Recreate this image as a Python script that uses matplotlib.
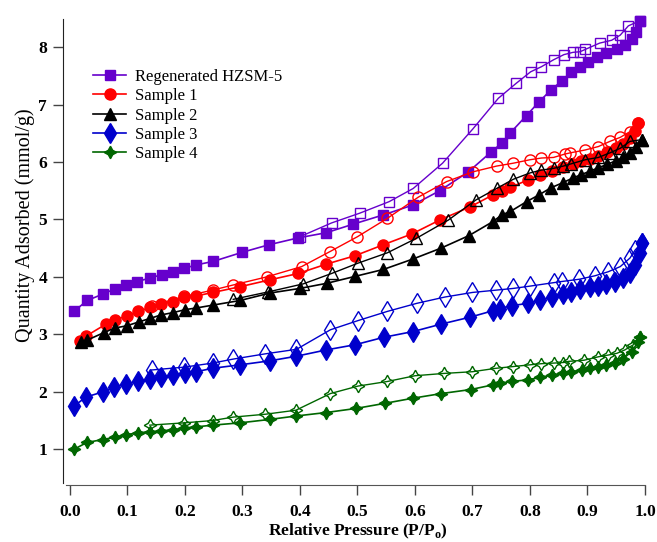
import matplotlib.pyplot as plt

plt.rcParams['font.family'] = 'Liberation Serif'
plt.rcParams['mathtext.fontset'] = 'custom'
plt.rcParams['mathtext.rm'] = 'Liberation Serif:bold'

# Regenerated HZSM-5
reg_ads_x = [0.007, 0.03, 0.057, 0.078, 0.097, 0.117, 0.139, 0.16, 0.179, 0.199, 0.22, 0.249, 0.30, 0.346, 0.397,
             0.446, 0.493, 0.545, 0.596, 0.643, 0.693, 0.733, 0.751, 0.766, 0.794, 0.815, 0.836, 0.855, 0.871,
             0.887, 0.901, 0.916, 0.933, 0.951, 0.965, 0.977, 0.985, 0.991]
reg_ads_y = [3.40, 3.59, 3.70, 3.79, 3.86, 3.92, 3.98, 4.04, 4.09, 4.15, 4.21, 4.27, 4.43, 4.56, 4.68,
             4.77, 4.92, 5.08, 5.25, 5.50, 5.83, 6.18, 6.33, 6.51, 6.81, 7.04, 7.25, 7.41, 7.56,
             7.66, 7.75, 7.82, 7.90, 7.96, 8.04, 8.14, 8.27, 8.46]
reg_des_x = [0.991, 0.971, 0.957, 0.942, 0.921, 0.896, 0.887, 0.875, 0.859, 0.841, 0.820, 0.801, 0.776, 0.745,
             0.701, 0.648, 0.597, 0.555, 0.504, 0.455, 0.40]
reg_des_y = [8.46, 8.37, 8.21, 8.12, 8.07, 7.96, 7.92, 7.91, 7.87, 7.78, 7.66, 7.57, 7.37, 7.11,
             6.58, 5.98, 5.54, 5.31, 5.11, 4.94, 4.70]

# Sample 1
s1_ads_x = [0.017, 0.028, 0.063, 0.078, 0.099, 0.119, 0.14, 0.159, 0.18, 0.199, 0.22, 0.249, 0.296, 0.348, 0.397,
            0.445, 0.496, 0.545, 0.595, 0.643, 0.696, 0.736, 0.751, 0.766, 0.797, 0.817, 0.838, 0.858, 0.874,
            0.889, 0.904, 0.919, 0.934, 0.949, 0.962, 0.974, 0.983, 0.988]
s1_ads_y = [2.89, 2.97, 3.18, 3.25, 3.32, 3.40, 3.47, 3.53, 3.57, 3.65, 3.67, 3.73, 3.83, 3.95, 4.06,
            4.22, 4.37, 4.56, 4.75, 4.99, 5.22, 5.43, 5.50, 5.56, 5.69, 5.78, 5.85, 5.92, 5.96,
            6.01, 6.06, 6.11, 6.17, 6.24, 6.32, 6.42, 6.54, 6.68]
s1_des_x = [0.988, 0.974, 0.957, 0.939, 0.919, 0.896, 0.870, 0.861, 0.841, 0.820, 0.800, 0.771, 0.742, 0.701,
            0.655, 0.606, 0.552, 0.500, 0.452, 0.403, 0.342, 0.284, 0.248, 0.199, 0.142]
s1_des_y = [6.68, 6.53, 6.43, 6.36, 6.27, 6.21, 6.16, 6.14, 6.08, 6.07, 6.04, 5.98, 5.93, 5.83,
            5.66, 5.39, 5.02, 4.70, 4.44, 4.18, 4.00, 3.86, 3.77, 3.66, 3.50]

# Sample 2
s2_ads_x = [0.02, 0.03, 0.059, 0.078, 0.099, 0.121, 0.14, 0.159, 0.18, 0.20, 0.22, 0.249, 0.296, 0.348, 0.40,
            0.447, 0.496, 0.545, 0.596, 0.645, 0.694, 0.735, 0.751, 0.766, 0.794, 0.816, 0.836, 0.857, 0.874,
            0.889, 0.904, 0.919, 0.934, 0.949, 0.962, 0.974, 0.985, 0.994]
s2_ads_y = [2.86, 2.90, 3.03, 3.11, 3.15, 3.22, 3.28, 3.34, 3.38, 3.43, 3.46, 3.51, 3.59, 3.72, 3.80,
            3.89, 4.01, 4.13, 4.31, 4.50, 4.72, 4.96, 5.08, 5.14, 5.31, 5.43, 5.55, 5.64, 5.72,
            5.78, 5.84, 5.90, 5.96, 6.02, 6.08, 6.16, 6.26, 6.39]
s2_des_x = [0.994, 0.974, 0.957, 0.939, 0.919, 0.896, 0.872, 0.858, 0.841, 0.820, 0.800, 0.771, 0.742, 0.706,
            0.658, 0.602, 0.552, 0.501, 0.455, 0.406, 0.345, 0.284]
s2_des_y = [6.39, 6.36, 6.24, 6.16, 6.08, 6.04, 5.97, 5.93, 5.89, 5.86, 5.81, 5.70, 5.54, 5.34,
            4.99, 4.67, 4.42, 4.24, 4.06, 3.88, 3.74, 3.61]

# Sample 3
s3_ads_x = [0.007, 0.028, 0.058, 0.077, 0.097, 0.119, 0.139, 0.159, 0.18, 0.20, 0.22, 0.248, 0.296, 0.348, 0.394,
            0.446, 0.496, 0.546, 0.597, 0.646, 0.696, 0.735, 0.748, 0.768, 0.797, 0.817, 0.838, 0.858, 0.872,
            0.887, 0.904, 0.919, 0.933, 0.948, 0.962, 0.974, 0.983, 0.991, 0.994]
s3_ads_y = [1.75, 1.91, 2.00, 2.08, 2.14, 2.18, 2.22, 2.25, 2.29, 2.32, 2.35, 2.41, 2.47, 2.54, 2.62,
            2.73, 2.82, 2.95, 3.05, 3.18, 3.30, 3.41, 3.45, 3.50, 3.54, 3.59, 3.65, 3.70, 3.74,
            3.79, 3.82, 3.84, 3.88, 3.92, 3.98, 4.06, 4.21, 4.41, 4.59]
s3_des_x = [0.994, 0.983, 0.974, 0.957, 0.936, 0.913, 0.886, 0.855, 0.841, 0.800, 0.771, 0.741, 0.700, 0.652,
            0.603, 0.552, 0.501, 0.453, 0.394, 0.339, 0.284, 0.248, 0.199, 0.142]
s3_des_y = [4.59, 4.47, 4.33, 4.18, 4.09, 4.02, 3.96, 3.92, 3.90, 3.84, 3.80, 3.77, 3.73, 3.65,
            3.54, 3.40, 3.24, 3.08, 2.74, 2.66, 2.57, 2.50, 2.43, 2.38]

# Sample 4
s4_ads_x = [0.007, 0.03, 0.058, 0.078, 0.097, 0.119, 0.139, 0.159, 0.18, 0.199, 0.22, 0.248, 0.296, 0.348, 0.394,
            0.446, 0.497, 0.548, 0.597, 0.646, 0.697, 0.735, 0.748, 0.768, 0.797, 0.817, 0.838, 0.858, 0.872,
            0.89, 0.904, 0.919, 0.933, 0.948, 0.962, 0.977, 0.988, 0.991]
s4_ads_y = [1.00, 1.12, 1.17, 1.21, 1.25, 1.29, 1.30, 1.32, 1.34, 1.37, 1.39, 1.42, 1.46, 1.52, 1.58,
            1.64, 1.71, 1.80, 1.89, 1.97, 2.04, 2.12, 2.15, 2.18, 2.21, 2.25, 2.29, 2.32, 2.35,
            2.38, 2.41, 2.44, 2.47, 2.51, 2.58, 2.70, 2.87, 2.96]
s4_des_x = [0.991, 0.980, 0.965, 0.951, 0.936, 0.919, 0.894, 0.867, 0.858, 0.841, 0.820, 0.800, 0.771, 0.741,
            0.700, 0.650, 0.600, 0.552, 0.501, 0.453, 0.393, 0.340, 0.284, 0.248, 0.199, 0.139]
s4_des_y = [2.96, 2.82, 2.73, 2.67, 2.64, 2.61, 2.55, 2.53, 2.51, 2.50, 2.49, 2.47, 2.44, 2.41,
            2.35, 2.32, 2.28, 2.18, 2.10, 1.97, 1.68, 1.61, 1.56, 1.50, 1.46, 1.42]

labels = ['Regenerated HZSM-5', 'Sample 1', 'Sample 2', 'Sample 3', 'Sample 4']
colors = ['#6600cc', '#ff0000', '#000000', '#0000cc', '#006600']
star4 = (4, 1, 0)

fig = plt.figure(figsize=(6.57, 5.42), dpi=100)
ax = fig.add_axes([63 / 657, 57 / 542, 582 / 657, 466 / 542])

series = [
    (reg_ads_x, reg_ads_y, reg_des_x, reg_des_y, 's', 7.5),
    (s1_ads_x, s1_ads_y, s1_des_x, s1_des_y, 'o', 8),
    (s2_ads_x, s2_ads_y, s2_des_x, s2_des_y, '^', 8),
    (s3_ads_x, s3_ads_y, s3_des_x, s3_des_y, 'd', 10),
    (s4_ads_x, s4_ads_y, s4_des_x, s4_des_y, star4, 9),
]

for (ax_x, ax_y, de_x, de_y, mk, ms), c, lab in zip(series, colors, labels):
    # desorption branch: open markers
    ax.plot(de_x, de_y, color=c, lw=1.0, marker=mk, ms=ms, mfc='none', mec=c, mew=1.0, clip_on=False)
    # adsorption branch: filled markers
    ax.plot(ax_x, ax_y, color=c, lw=1.2, marker=mk, ms=ms, mfc=c, mec=c, label=lab, clip_on=False)

ax.set_xlim(-0.012, 1.0)
ax.set_ylim(0.378, 8.49)
ax.spines['top'].set_visible(False)
ax.spines['right'].set_visible(False)
ax.spines['left'].set_bounds(0.41, 8.49)
ax.spines['bottom'].set_bounds(-0.007, 1.0)
ax.spines['left'].set_color('#222222')
ax.spines['bottom'].set_color('#555555')

ax.set_xticks([0.0, 0.1, 0.2, 0.3, 0.4, 0.5, 0.6, 0.7, 0.8, 0.9, 1.0])
ax.set_yticks([1, 2, 3, 4, 5, 6, 7, 8])
ax.tick_params(axis='x', direction='out', length=7.5, width=1, color='#444444', pad=6)
ax.tick_params(axis='y', direction='out', length=7.5, width=1, color='#444444', pad=4)
for t in ax.get_xticklabels() + ax.get_yticklabels():
    t.set_fontweight('bold')
    t.set_fontsize(12.5)

fig.text(25 / 657, 1 - 225 / 542, 'Quantity Adsorbed (mmol/g)', rotation=90,
         ha='center', va='center', fontsize=14.5)
fig.text(358 / 657, 1 - 531 / 542, r'Relative Pressure (P/P$_\mathrm{o}$)',
         ha='center', va='center', fontsize=12.5, fontweight='bold')

ax.legend(loc='upper left', bbox_to_anchor=(93 / 657, 1 - 69 / 542), bbox_transform=fig.transFigure,
          frameon=False, borderpad=0, borderaxespad=0, fontsize=12, labelspacing=0.2,
          handlelength=2.0, handletextpad=0.5, numpoints=1)

plt.savefig('out.png', dpi=100)
